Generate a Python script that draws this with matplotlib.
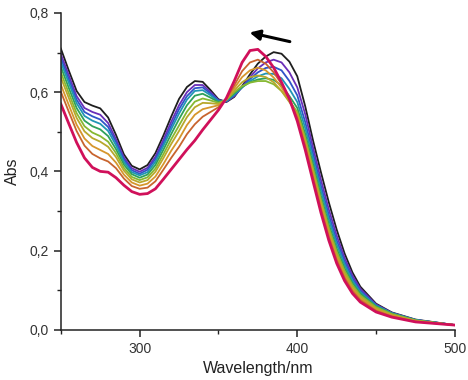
import matplotlib
matplotlib.use("Agg")
import matplotlib.pyplot as plt
from matplotlib.ticker import MultipleLocator, FuncFormatter

plt.rcParams['font.family'] = ['Liberation Sans', 'DejaVu Sans']

# wavelength grid (nm)
wl = [250, 255, 260, 265, 270, 275, 280, 285, 290, 295, 300, 305, 310, 315, 320,
      325, 330, 335, 340, 345, 350, 355, 360, 365, 370, 375, 380, 385, 390, 395,
      400, 405, 410, 415, 420, 425, 430, 435, 440, 450, 460, 475, 500]

# absorbance of each spectrum (first -> last of the titration)
abs_black = [0.710, 0.655, 0.603, 0.575, 0.566, 0.559, 0.536, 0.492, 0.443, 0.414, 0.405,
             0.416, 0.446, 0.490, 0.538, 0.583, 0.613, 0.628, 0.626, 0.605, 0.582,
             0.575, 0.588, 0.615, 0.645, 0.672, 0.690, 0.701, 0.697, 0.677, 0.640,
             0.565, 0.478, 0.398, 0.322, 0.253, 0.193, 0.145, 0.109, 0.066, 0.044, 0.026, 0.012]
abs_purple = [0.696, 0.643, 0.590, 0.560, 0.550, 0.543, 0.522, 0.481, 0.435, 0.408, 0.399,
              0.409, 0.437, 0.479, 0.525, 0.567, 0.600, 0.618, 0.618, 0.600, 0.580,
              0.576, 0.590, 0.613, 0.638, 0.660, 0.675, 0.682, 0.675, 0.650, 0.612,
              0.545, 0.460, 0.379, 0.304, 0.238, 0.182, 0.137, 0.104, 0.064, 0.043, 0.025, 0.012]
abs_blue = [0.686, 0.633, 0.581, 0.550, 0.539, 0.531, 0.512, 0.474, 0.430, 0.403, 0.394,
            0.404, 0.431, 0.471, 0.515, 0.557, 0.590, 0.610, 0.612, 0.596, 0.579,
            0.577, 0.592, 0.612, 0.633, 0.650, 0.661, 0.664, 0.655, 0.628, 0.592,
            0.525, 0.445, 0.364, 0.290, 0.226, 0.173, 0.130, 0.099, 0.062, 0.042, 0.025, 0.012]
abs_teal = [0.676, 0.624, 0.572, 0.540, 0.528, 0.520, 0.502, 0.466, 0.424, 0.398, 0.390,
            0.398, 0.424, 0.464, 0.506, 0.546, 0.581, 0.603, 0.605, 0.592, 0.577,
            0.578, 0.594, 0.612, 0.628, 0.640, 0.647, 0.646, 0.635, 0.608, 0.575,
            0.510, 0.432, 0.352, 0.279, 0.216, 0.165, 0.124, 0.095, 0.061, 0.042, 0.025, 0.012]
abs_green = [0.664, 0.611, 0.560, 0.528, 0.514, 0.506, 0.489, 0.456, 0.417, 0.393, 0.384,
             0.392, 0.416, 0.454, 0.494, 0.532, 0.567, 0.591, 0.596, 0.586, 0.575,
             0.580, 0.597, 0.613, 0.625, 0.632, 0.635, 0.631, 0.617, 0.590, 0.560,
             0.495, 0.418, 0.338, 0.266, 0.205, 0.156, 0.118, 0.091, 0.059, 0.041, 0.024, 0.012]
abs_lime = [0.650, 0.598, 0.547, 0.514, 0.498, 0.489, 0.475, 0.446, 0.409, 0.386, 0.378,
            0.385, 0.407, 0.443, 0.481, 0.516, 0.551, 0.576, 0.584, 0.579, 0.573,
            0.580, 0.600, 0.615, 0.624, 0.628, 0.628, 0.620, 0.603, 0.578, 0.550,
            0.485, 0.408, 0.329, 0.258, 0.197, 0.149, 0.113, 0.087, 0.057, 0.040, 0.024, 0.012]
abs_olive = [0.637, 0.586, 0.535, 0.501, 0.484, 0.475, 0.462, 0.436, 0.402, 0.380, 0.372,
             0.378, 0.399, 0.433, 0.469, 0.502, 0.537, 0.562, 0.573, 0.572, 0.570,
             0.581, 0.604, 0.625, 0.638, 0.642, 0.638, 0.625, 0.603, 0.575, 0.545,
             0.478, 0.400, 0.321, 0.250, 0.190, 0.143, 0.108, 0.083, 0.054, 0.038, 0.023, 0.012]
abs_orange = [0.619, 0.568, 0.518, 0.483, 0.464, 0.454, 0.444, 0.422, 0.392, 0.372, 0.364,
              0.369, 0.387, 0.418, 0.452, 0.482, 0.517, 0.543, 0.557, 0.562, 0.567,
              0.582, 0.610, 0.638, 0.655, 0.662, 0.655, 0.637, 0.612, 0.580, 0.540,
              0.472, 0.393, 0.314, 0.243, 0.183, 0.137, 0.103, 0.079, 0.051, 0.036, 0.022, 0.012]
abs_brown = [0.601, 0.551, 0.502, 0.465, 0.444, 0.433, 0.425, 0.408, 0.382, 0.363, 0.356,
             0.359, 0.375, 0.404, 0.434, 0.462, 0.494, 0.519, 0.538, 0.550, 0.562,
             0.583, 0.617, 0.653, 0.675, 0.682, 0.672, 0.650, 0.621, 0.585, 0.535,
             0.465, 0.385, 0.306, 0.235, 0.176, 0.131, 0.098, 0.075, 0.048, 0.034, 0.021, 0.012]
abs_red = [0.570, 0.521, 0.473, 0.434, 0.410, 0.400, 0.398, 0.384, 0.365, 0.349, 0.342,
           0.344, 0.356, 0.380, 0.405, 0.430, 0.455, 0.478, 0.505, 0.530, 0.555,
           0.585, 0.628, 0.675, 0.705, 0.708, 0.690, 0.662, 0.625, 0.583, 0.527,
           0.455, 0.375, 0.296, 0.226, 0.168, 0.124, 0.092, 0.070, 0.045, 0.032, 0.020, 0.012]

spectra = [abs_black, abs_purple, abs_blue, abs_teal, abs_green,
           abs_lime, abs_olive, abs_orange, abs_brown, abs_red]
colors = ['#1e1e1e', '#6a2eb8', '#2f55c8', '#1f95b5', '#2fa15a',
          '#86b832', '#b8a82c', '#d6962c', '#c8642e', '#d0105a']


def comma(v, pos):
    return ('%.1f' % v).replace('.', ',')


def main():
    fig = plt.figure(figsize=(4.68, 3.8), dpi=100)
    ax = fig.add_axes([0.130, 0.132, 0.842, 0.834])

    for y, c in zip(spectra, colors):
        lw = 2.0 if c == '#d0105a' else 1.3
        ax.plot(wl, y, color=c, lw=lw, solid_joinstyle='round')

    ax.annotate('', xy=(368, 0.752), xytext=(397, 0.726),
                arrowprops=dict(arrowstyle='-|>,head_length=0.6,head_width=0.3',
                                color='black', lw=2.2))

    ax.set_xlim(250, 500)
    ax.set_ylim(0, 0.8)
    ax.xaxis.set_major_locator(MultipleLocator(100))
    ax.xaxis.set_minor_locator(MultipleLocator(50))
    ax.yaxis.set_major_locator(MultipleLocator(0.2))
    ax.yaxis.set_minor_locator(MultipleLocator(0.1))
    ax.yaxis.set_major_formatter(FuncFormatter(comma))

    for s in ['top', 'right']:
        ax.spines[s].set_visible(False)
    for s in ['left', 'bottom']:
        ax.spines[s].set_linewidth(1.1)
        ax.spines[s].set_color('#222222')
    ax.tick_params(which='major', direction='out', length=5, width=1.1,
                   labelsize=10, labelcolor='#333333', color='#222222')
    ax.tick_params(which='minor', direction='out', length=3, width=1.0, color='#222222')

    ax.set_xlabel('Wavelength/nm', fontsize=11.5, color='#222222', labelpad=4)
    ax.set_ylabel('Abs', fontsize=11.5, color='#222222', labelpad=7)

    fig.savefig('out.png', dpi=100)


if __name__ == '__main__':
    main()
